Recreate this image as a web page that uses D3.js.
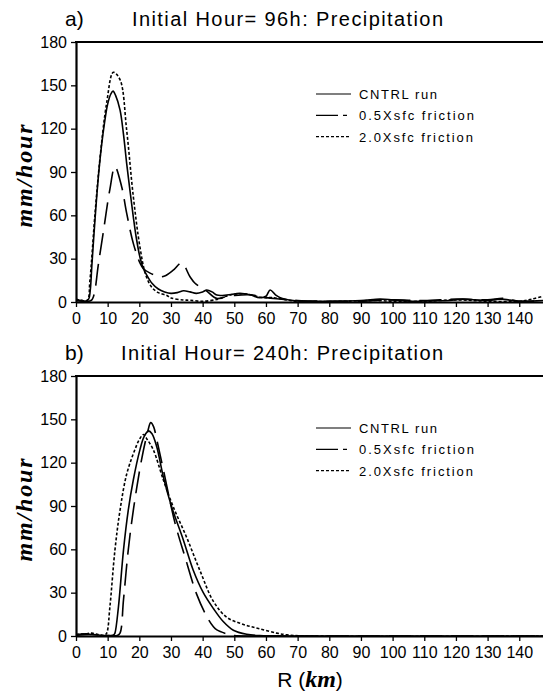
<!DOCTYPE html>
<html>
<head>
<meta charset="utf-8">
<script src="https://cdn.jsdelivr.net/npm/d3@7"></script>
<style>
  body { margin: 0; background: #fff; }
  .tick text { font-family: "Liberation Sans", Arial, sans-serif; font-size: 16px; fill: #000; }
</style>
</head>
<body>
<div id="chart"></div>
<script>
// axis ticks
const rTicks = [0, 10, 20, 30, 40, 50, 60, 70, 80, 90, 100, 110, 120, 130, 140];
const vTicks = [0, 30, 60, 90, 120, 150, 180];

const seriesNames = ["CNTRL run", "0.5Xsfc friction", "2.0Xsfc friction"];

// a) Initial Hour = 96h
const aCntrlR = [0, 2, 3, 4, 4.5, 5, 6, 7, 8, 9, 10, 11, 11.7, 12.5, 13.9, 15, 16, 17, 18.1, 19, 20.2, 21.3, 22, 24, 26, 28, 30, 32, 34, 36, 38, 40, 41.3, 43, 44.5, 47.6, 51.8, 55, 58, 60, 61.3, 63, 64.5, 68.6, 72, 80, 90, 96, 100, 106, 112, 118, 122, 126, 130, 134, 140, 147.5];
const aCntrlV = [1.5, 1, 0.5, 2, 8, 25, 57, 85, 107, 124, 137, 144, 146, 143, 133, 116, 96, 78, 59, 45, 31, 23, 20, 13, 9, 7, 6, 6.5, 7.8, 7, 6, 7, 8.3, 7, 4.8, 4.8, 6, 5, 3, 4, 8.3, 5, 3, 1, 0.5, 0.5, 1, 2, 1.5, 0.5, 0.8, 1, 2, 1.5, 1, 2, 0.5, 1];

const aHalfR = [0, 2, 4, 5, 5.5, 6, 7, 8.6, 10.7, 12.3, 14.4, 16, 18.1, 20.2, 21.3, 23.4, 26.5, 28, 30.7, 33.4, 36, 37.6, 41, 44.4, 47, 50, 55, 60, 65, 70, 80, 90, 100, 110, 120, 130, 135, 140, 147.5];
const aHalfV = [1, 0.5, 0.5, 1.5, 3.7, 8, 25, 48, 78, 93.7, 80, 61.5, 40.6, 27, 23, 20, 17.5, 18, 22, 27, 17.5, 13, 8, 2.5, 3.5, 4.5, 5, 3, 2, 1, 0.5, 0.5, 1.5, 1, 2, 1.5, 2.5, 0.5, 1];

const aDoubleR = [0, 2, 3.6, 4.4, 6, 7.6, 9.7, 11.8, 13.9, 16, 18.1, 20.2, 22, 24, 26, 28.7, 30, 33.8, 36, 40, 45, 48, 50.8, 54, 59, 62, 66.6, 70, 80, 95, 100, 110, 120, 130, 140, 144, 147.5];
const aDoubleV = [2, 1, 1.3, 15, 61, 100, 138, 159, 154, 119, 73, 38, 19, 10, 6.5, 4.5, 2.8, 1.4, 1.2, 0.5, 2, 4.5, 5.5, 5.5, 3, 3, 1.4, 0.5, 0.3, 1, 0.5, 0.5, 1.5, 0.5, 0.5, 2, 4];

// b) Initial Hour = 240h
const bCntrlR = [0, 3, 5, 8, 11, 12, 12.3, 13.4, 15, 16.5, 18.1, 20.2, 21.5, 22.9, 24, 25.5, 27.6, 30.2, 33.9, 37, 40.2, 43.4, 46.5, 49.7, 53.9, 58, 70, 147.5];
const bCntrlV = [1, 1.5, 1, 0.5, 0.3, 1, 2, 20, 59.5, 87, 108, 129, 138, 142, 140, 131, 110, 89.5, 66.5, 45.7, 30, 19, 10, 4, 1.2, 0.3, 0, 0];

const bHalfR = [0, 5, 10, 13, 13.9, 15, 16.5, 18.1, 20.7, 22.5, 23.6, 24.5, 25.5, 27.6, 31.3, 34.4, 38.1, 41.3, 43.4, 44.5, 47.6, 50, 60, 147.5];
const bHalfV = [0.5, 1, 0.3, 0.3, 2, 25, 59.5, 87, 122, 140, 147.7, 145, 136, 115, 78, 55, 29, 13.5, 6.4, 4.2, 1.5, 0.3, 0, 0];

const bDoubleR = [0, 3, 5, 7, 9, 9.7, 10.7, 12.3, 13.9, 16, 18.6, 20, 21.3, 22.5, 24.4, 27.6, 30.7, 35, 39.2, 43.4, 47.6, 52.9, 58, 63.4, 66.6, 72, 147.5];
const bDoubleV = [1, 1.5, 2, 1, 0.5, 2, 20, 59.5, 87, 112, 129, 136, 139.5, 136, 129, 108, 89.5, 68, 45, 24, 13, 8, 5, 2, 0.8, 0.1, 0];

// dash patterns: curves, and the legend samples
const dashes = [null, "22,9", "3,2"];
const legendDashes = [null, "22,5,4,5", "3,2"];

const width = 543, height = 696;
const svg = d3.select("#chart").append("svg")
    .attr("width", width)
    .attr("height", height);

const x = d3.scaleLinear().domain([0, 147.5]).range([76, 543]);

function drawPanel({ top, bottom, tag, title, titleLen, rs, vs }) {
    const y = d3.scaleLinear().domain([0, 180]).range([bottom, top]);
    const g = svg.append("g");

    // panel label and title
    g.append("text")
        .attr("x", 65).attr("y", top - 16)
        .style("font-family", "Liberation Sans, Arial, sans-serif")
        .style("font-size", "21px")
        .text(tag);
    g.append("text")
        .attr("x", 443 - titleLen).attr("y", top - 16)
        .attr("textLength", titleLen)
        .attr("lengthAdjust", "spacing")
        .style("font-family", "Liberation Sans, Arial, sans-serif")
        .style("font-size", "20px")
        .text(title);

    // axes
    const xAxis = g.append("g")
        .attr("transform", `translate(0,${bottom})`)
        .call(d3.axisBottom(x).tickValues(rTicks).tickSize(5).tickPadding(6).tickSizeOuter(0));
    const yAxis = g.append("g")
        .attr("transform", "translate(76,0)")
        .call(d3.axisLeft(y).tickValues(vTicks).tickSize(5).tickPadding(4).tickSizeOuter(0));
    [xAxis, yAxis].forEach(a => {
        a.select(".domain").attr("stroke-width", 2.2);
        a.selectAll(".tick line").attr("stroke-width", 1.3);
    });

    // top frame line
    g.append("line")
        .attr("x1", 75).attr("x2", 543)
        .attr("y1", top).attr("y2", top)
        .attr("stroke", "#000").attr("stroke-width", 2.2);

    // y title
    g.append("text")
        .attr("transform", `translate(32,${(top + bottom) / 2 + 4}) rotate(-90)`)
        .attr("text-anchor", "middle")
        .attr("textLength", 103)
        .attr("lengthAdjust", "spacing")
        .style("font-family", "Liberation Serif, serif")
        .style("font-style", "italic")
        .style("font-weight", "bold")
        .style("font-size", "24px")
        .text("mm/hour");

    // curves
    const line = d3.line()
        .x(d => x(d[0]))
        .y(d => y(d[1]))
        .curve(d3.curveCatmullRom.alpha(0.5));

    const clipId = "clip" + top;
    g.append("clipPath").attr("id", clipId)
        .append("rect").attr("x", 76).attr("y", top).attr("width", width - 76).attr("height", bottom - top);

    rs.forEach((r, i) => {
        g.append("path")
            .datum(r.map((d, j) => [d, vs[i][j]]))
            .attr("clip-path", `url(#${clipId})`)
            .attr("d", line)
            .attr("fill", "none")
            .attr("stroke", "#000")
            .attr("stroke-width", 1.6)
            .attr("stroke-dasharray", dashes[i]);
    });

    // legend
    const legendWidths = [78, 115, 114];
    seriesNames.forEach((name, i) => {
        const ly = top + 52 + i * 21.3;
        g.append("line")
            .attr("x1", 316).attr("x2", 351)
            .attr("y1", ly).attr("y2", ly)
            .attr("stroke", "#000").attr("stroke-width", 1.2)
            .attr("stroke-dasharray", legendDashes[i]);
        g.append("text")
            .attr("x", 359).attr("y", ly + 5)
            .attr("textLength", legendWidths[i])
            .attr("lengthAdjust", "spacing")
            .style("font-family", "Liberation Sans, Arial, sans-serif")
            .style("font-size", "13px")
            .text(name);
    });
}

drawPanel({
    top: 42, bottom: 302, tag: "a)", title: "Initial Hour= 96h: Precipitation", titleLen: 311,
    rs: [aCntrlR, aHalfR, aDoubleR], vs: [aCntrlV, aHalfV, aDoubleV]
});
drawPanel({
    top: 376, bottom: 636, tag: "b)", title: "Initial Hour= 240h: Precipitation", titleLen: 322,
    rs: [bCntrlR, bHalfR, bDoubleR], vs: [bCntrlV, bHalfV, bDoubleV]
});

// x title
const xt = svg.append("text")
    .attr("x", 310).attr("y", 687)
    .attr("text-anchor", "middle")
    .style("font-family", "Liberation Sans, Arial, sans-serif")
    .style("font-size", "21px");
xt.append("tspan").text("R (");
xt.append("tspan")
    .style("font-family", "Liberation Serif, serif")
    .style("font-style", "italic")
    .style("font-weight", "bold")
    .style("font-size", "24px")
    .text("km");
xt.append("tspan").text(")");
</script>
</body>
</html>
